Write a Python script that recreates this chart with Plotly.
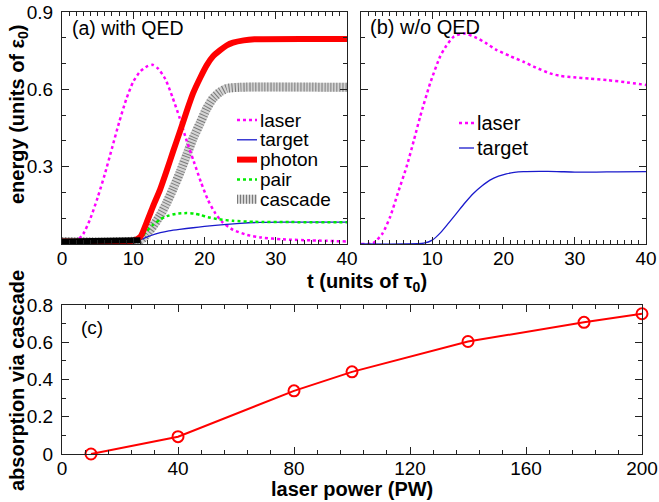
import plotly.graph_objects as go

W, H = 659, 502

# ---------------- data: panel (a) with QED ----------------
t_laser_a = [0, 2, 3, 4, 5, 6, 7, 8, 9, 10, 11, 12, 12.7, 13.5, 14.5, 15.5, 16.5, 17.5,
             18.5, 19.5, 20.5, 21.5, 22.5, 24, 26, 28, 31, 35, 40]
e_laser_a = [0.01, 0.012, 0.04, 0.10, 0.18, 0.27, 0.37, 0.47, 0.56, 0.63, 0.67, 0.69, 0.695,
             0.68, 0.64, 0.57, 0.49, 0.40, 0.32, 0.24, 0.17, 0.12, 0.085, 0.055, 0.035,
             0.025, 0.018, 0.014, 0.01]

t_target_a = [0, 10.5, 11.5, 12.5, 13.8, 15, 16.5, 18.4, 20, 21.5, 23.1, 25, 27.8, 31, 35, 40]
e_target_a = [0.01, 0.012, 0.022, 0.033, 0.044, 0.051, 0.057, 0.063, 0.068, 0.072, 0.076,
              0.080, 0.084, 0.085, 0.085, 0.085]

t_photon = [0, 10, 11, 11.9, 12.8, 13.75, 14.7, 15.6, 16.6, 17.5, 18.4, 19.4, 20.3, 21.2,
            22.2, 23.1, 24, 25.5, 27, 40]
e_photon = [0.01, 0.013, 0.028, 0.085, 0.148, 0.21, 0.285, 0.36, 0.44, 0.515, 0.585, 0.645,
            0.693, 0.728, 0.752, 0.77, 0.781, 0.79, 0.794, 0.795]

t_pair = [0, 10.5, 11, 11.9, 12.8, 13.75, 14.7, 16, 17.5, 18.5, 19.5, 20.5, 22, 24, 27, 32, 40]
e_pair = [0.01, 0.012, 0.022, 0.05, 0.075, 0.095, 0.108, 0.117, 0.12, 0.118, 0.112, 0.104,
          0.096, 0.09, 0.086, 0.085, 0.084]

t_cascade = [0, 11, 11.9, 12.8, 13.75, 14.7, 15.6, 16.6, 17.5, 18.4, 19.4, 20.3, 21.2, 22.2,
             23.1, 25, 40]
e_cascade = [0.01, 0.015, 0.038, 0.07, 0.11, 0.16, 0.215, 0.28, 0.345, 0.41, 0.47, 0.525,
             0.565, 0.59, 0.603, 0.608, 0.608]

# ---------------- data: panel (b) w/o QED ----------------
t_laser_b = [0, 1.7, 3, 4.1, 5.2, 6.4, 7.4, 8.3, 9.7, 11.1, 12, 13, 14.4, 16.2, 17.5, 19, 21,
             22.8, 24.5, 26.5, 28, 29.8, 32, 34.5, 37, 40]
e_laser_b = [0, 0.003, 0.04, 0.106, 0.2, 0.3, 0.4, 0.494, 0.623, 0.727, 0.77, 0.804, 0.817,
             0.80, 0.78, 0.753, 0.728, 0.707, 0.685, 0.662, 0.652, 0.647, 0.642, 0.636,
             0.628, 0.617]

t_target_b = [0, 6, 8.8, 10, 11.1, 12.2, 13.4, 14.6, 15.8, 17, 18.1, 19.3, 20.4, 21.5, 22.8,
              25, 27.5, 30, 33, 36, 40]
e_target_b = [0, 0, 0.003, 0.015, 0.042, 0.078, 0.119, 0.16, 0.197, 0.226, 0.248, 0.263,
              0.272, 0.278, 0.281, 0.282, 0.281, 0.279, 0.279, 0.28, 0.281]

# ---------------- data: panel (c) ----------------
power_pw = [10, 40, 80, 100, 140, 180, 200]
absorption = [0, 0.093, 0.339, 0.441, 0.604, 0.707, 0.753]

# ---------------- styles ----------------
FONT = "Liberation Sans, Arial, Helvetica, sans-serif"
MAGENTA = "#ff00ff"
BLUE = "#1a1acc"
RED = "#ff0000"
GREEN = "#00ee00"
GRAY = "#d4d4d4"
HATCH = "#7a7a7a"
HATCH_DASH = "1px,2px"

def px_x(p):
    return p / W

def px_y(p):
    return 1 - p / H

fig = go.Figure()

# panel (a)
fig.add_trace(go.Scatter(x=t_cascade, y=e_cascade, mode="lines", xaxis="x", yaxis="y",
                         line=dict(color=GRAY, width=9, shape="spline", smoothing=0.6),
                         showlegend=False))
fig.add_trace(go.Scatter(x=t_cascade, y=e_cascade, mode="lines", xaxis="x", yaxis="y",
                         line=dict(color=HATCH, width=9, dash=HATCH_DASH, shape="spline",
                                   smoothing=0.6),
                         showlegend=False))
fig.add_trace(go.Scatter(x=t_laser_a, y=e_laser_a, mode="lines", xaxis="x", yaxis="y",
                         line=dict(color=MAGENTA, width=2.5, dash="dot", shape="spline",
                                   smoothing=0.6),
                         showlegend=False))
fig.add_trace(go.Scatter(x=t_target_a, y=e_target_a, mode="lines", xaxis="x", yaxis="y",
                         line=dict(color=BLUE, width=1.3, shape="spline", smoothing=0.6),
                         showlegend=False))
fig.add_trace(go.Scatter(x=t_pair, y=e_pair, mode="lines", xaxis="x", yaxis="y",
                         line=dict(color=GREEN, width=2.5, dash="dot", shape="spline",
                                   smoothing=0.6),
                         showlegend=False))
fig.add_trace(go.Scatter(x=t_photon, y=e_photon, mode="lines", xaxis="x", yaxis="y",
                         line=dict(color=RED, width=6, shape="spline", smoothing=0.6),
                         showlegend=False))
# flat early part of the cascade looks solid black
fig.add_trace(go.Scatter(x=t_cascade[:2], y=e_cascade[:2], mode="lines", xaxis="x", yaxis="y",
                         line=dict(color="#000000", width=6), showlegend=False))

# panel (b)
fig.add_trace(go.Scatter(x=t_laser_b, y=e_laser_b, mode="lines", xaxis="x2", yaxis="y2",
                         line=dict(color=MAGENTA, width=2.5, dash="dot", shape="spline",
                                   smoothing=0.6),
                         showlegend=False))
fig.add_trace(go.Scatter(x=t_target_b, y=e_target_b, mode="lines", xaxis="x2", yaxis="y2",
                         line=dict(color=BLUE, width=1.3, shape="spline", smoothing=0.6),
                         showlegend=False))

# panel (c)
fig.add_trace(go.Scatter(x=power_pw, y=absorption, mode="lines+markers", xaxis="x3", yaxis="y3",
                         line=dict(color=RED, width=2),
                         marker=dict(symbol="circle-open", size=11, color=RED,
                                     line=dict(color=RED, width=2)),
                         cliponaxis=False, showlegend=False))

axis_common = dict(showline=True, mirror="ticks", linecolor="#222222", linewidth=1.3,
                   ticks="inside", ticklen=7, tickwidth=1.2, tickcolor="#222222",
                   showgrid=False, zeroline=False, automargin=False,
                   tickfont=dict(family=FONT, size=19, color="#000000"))

XSTAND = -3
YSTAND = 4
yA = [px_y(244), px_y(12)]
fig.update_layout(
    width=W, height=H,
    margin=dict(l=0, r=0, t=0, b=0, pad=0, autoexpand=False),
    paper_bgcolor="white", plot_bgcolor="white",
    font=dict(family=FONT, color="#000000"),
    xaxis=dict(domain=[px_x(62), px_x(347)], range=[0, 40], anchor="y",
               tickmode="array", tickvals=[0, 10, 20, 30, 40], ticklabelstandoff=XSTAND,
               minor=dict(ticks="inside", ticklen=4, tickmode="linear", tick0=0, dtick=1,
                          tickcolor="#222222"),
               **axis_common),
    yaxis=dict(domain=yA, range=[0, 0.9], anchor="x",
               tickmode="array", tickvals=[0.3, 0.6, 0.9], ticktext=["0.3", "0.6", "0.9"],
               ticklabelstandoff=YSTAND,
               minor=dict(ticks="inside", ticklen=4, tickmode="linear", tick0=0, dtick=0.1,
                          tickcolor="#222222"),
               **axis_common),
    xaxis2=dict(domain=[px_x(361), px_x(646)], range=[0, 40], anchor="y2",
                tickmode="array", tickvals=[10, 20, 30, 40], ticklabelstandoff=XSTAND,
                minor=dict(ticks="inside", ticklen=4, tickmode="linear", tick0=0, dtick=1,
                           tickcolor="#222222"),
                **axis_common),
    yaxis2=dict(domain=yA, range=[0, 0.9], anchor="x2", showticklabels=False,
                tickmode="array", tickvals=[0.3, 0.6, 0.9],
                minor=dict(ticks="inside", ticklen=4, tickmode="linear", tick0=0, dtick=0.1,
                           tickcolor="#222222"),
                **axis_common),
    xaxis3=dict(domain=[px_x(62), px_x(642)], range=[0, 200], anchor="y3",
                tickmode="linear", tick0=0, dtick=40, ticklabelstandoff=XSTAND,
                minor=dict(ticks="inside", ticklen=4, tickmode="linear", tick0=0, dtick=8,
                           tickcolor="#222222"),
                **axis_common),
    yaxis3=dict(domain=[px_y(454), px_y(305)], range=[0, 0.8], anchor="x3",
                tickmode="linear", tick0=0, dtick=0.2, ticklabelstandoff=YSTAND,
                minor=dict(ticks="inside", ticklen=4, tickmode="linear", tick0=0, dtick=0.1,
                           tickcolor="#222222"),
                **axis_common),
)

ann = []
def text(x, y, s, size=19, bold=False, xanchor="left", angle=0):
    ann.append(dict(x=px_x(x), y=px_y(y), xref="paper", yref="paper",
                    text=("<b>" + s + "</b>") if bold else s,
                    showarrow=False, xanchor=xanchor, yanchor="middle", textangle=angle,
                    font=dict(family=FONT, size=size, color="#000000")))

# panel labels
text(70, 28, "(a) with QED", size=19.5)
text(368, 27, "(b) w/o QED", size=20)
text(79, 327, "(c)", size=19)

# axis titles
text(367, 282, "t (units of τ<sub>0</sub>)", size=20, bold=True, xanchor="center")
text(352, 489, "laser power (PW)", size=20, bold=True, xanchor="center")
text(18, 114, "energy (units of ε<sub>0</sub>)", size=20, bold=True, xanchor="center", angle=-90)
text(17, 381, "absorption via cascade", size=20, bold=True, xanchor="center", angle=-90)

# manual legends
shapes = []
def swatch(x0, x1, y, color, width, dash="solid"):
    shapes.append(dict(type="line", xref="paper", yref="paper",
                       x0=px_x(x0), x1=px_x(x1), y0=px_y(y), y1=px_y(y),
                       line=dict(color=color, width=width, dash=dash)))

rows_a = [("laser", MAGENTA, 2.5, "dot"), ("target", BLUE, 1.3, "solid"),
          ("photon", RED, 6, "solid"), ("pair", GREEN, 2.5, "dot"),
          ("cascade", GRAY, 9, "solid")]
for i, (name, col, wd, ds) in enumerate(rows_a):
    yy = 120 + 19.8 * i
    swatch(237, 257, yy, col, wd, ds)
    if name == "cascade":
        swatch(237, 257, yy, HATCH, 9, HATCH_DASH)
    text(258, yy, name, size=19)

rows_b = [("laser", MAGENTA, 2.5, "dot"), ("target", BLUE, 1.3, "solid")]
for i, (name, col, wd, ds) in enumerate(rows_b):
    yy = 123 + 25 * i
    swatch(459, 474, yy, col, wd, ds)
    text(475, yy, name, size=20)

fig.update_layout(annotations=ann, shapes=shapes)
fig.write_html("out.html")
